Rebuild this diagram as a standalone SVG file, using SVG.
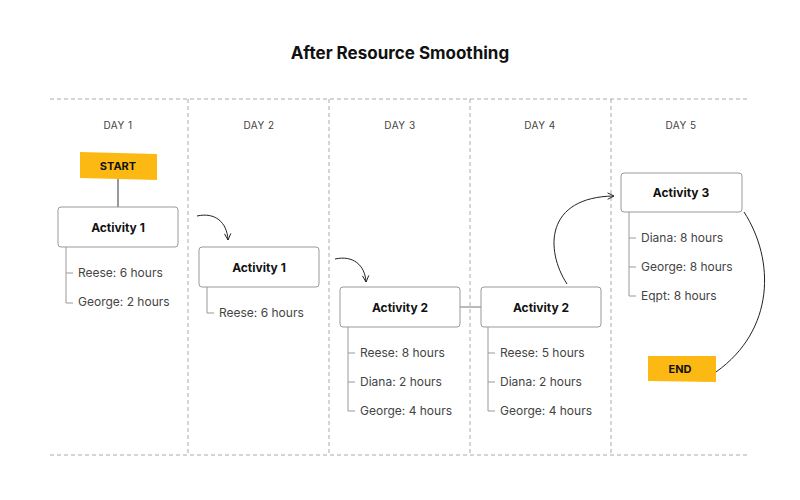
<svg xmlns="http://www.w3.org/2000/svg" width="800" height="500" viewBox="0 0 800 500">
<style>
text{font-family:Inter,"Open Sans",sans-serif;}
.grid{stroke:#aaa;stroke-width:1;stroke-dasharray:4 3;fill:none}
.day{font-size:10px;fill:#444;letter-spacing:0.5px;text-anchor:middle}
.box{fill:#fff;stroke:#999;stroke-width:1}
.bt{font-size:12px;font-weight:700;fill:#111;text-anchor:middle}
.it{font-size:12px;fill:#444}
.tree{stroke:#999;stroke-width:1;fill:none}
.con{stroke:#222;stroke-width:1;fill:none}
.sticky{fill:#fdb913}
.st{font-size:11px;font-weight:700;fill:#111;text-anchor:middle}
</style>
<defs><marker id="ah" viewBox="0 0 10 10" refX="9" refY="5" markerWidth="8" markerHeight="8" orient="auto-start-reverse"><path d="M1,1 L9,5 L1,9" fill="none" stroke="#222" stroke-width="1.2"/></marker></defs>
<rect width="800" height="500" fill="#fff"/>
<text x="400" y="59" text-anchor="middle" font-size="17" font-weight="700" fill="#111">After Resource Smoothing</text>
<g id="grid">
<line class="grid" x1="50" y1="99" x2="750" y2="99"/>
<line class="grid" x1="50" y1="455" x2="750" y2="455"/>
<line class="grid" x1="188" y1="99" x2="188" y2="455"/>
<line class="grid" x1="329" y1="99" x2="329" y2="455"/>
<line class="grid" x1="470" y1="99" x2="470" y2="455"/>
<line class="grid" x1="611" y1="99" x2="611" y2="455"/>
<text class="day" x="118" y="129">DAY 1</text>
<text class="day" x="259" y="129">DAY 2</text>
<text class="day" x="400" y="129">DAY 3</text>
<text class="day" x="540" y="129">DAY 4</text>
<text class="day" x="681" y="129">DAY 5</text>
</g>
<g id="connectors">
<line x1="118" y1="179" x2="118" y2="207" stroke="#777" stroke-width="1.5"/>
<path class="con" d="M197,216 C215,212 227,222 228,240" marker-end="url(#ah)"/>
<path class="con" d="M335,259 C353,255 365,265 366,282" marker-end="url(#ah)"/>
<line x1="460" y1="307" x2="481" y2="307" stroke="#777" stroke-width="1"/>
<path class="con" d="M567,284 C545,250 545,197 614,196" marker-end="url(#ah)"/>
<path class="con" d="M744,212 C775,260 775,330 716,372"/>
</g>
<g id="start"><polygon class="sticky" points="80,152 157,154 157,180 80,178"/><text class="st" x="118" y="170">START</text></g>
<g id="end"><polygon class="sticky" points="648,356 716,356 716,382 648,381"/><text class="st" x="680" y="373">END</text></g>
<g id="a1d1"><rect class="box" x="58" y="207" width="120" height="40" rx="3"/><text class="bt" x="118" y="232">Activity 1</text>
<path class="tree" d="M66,247 V303 H73 M66,273 H73"/><text class="it" x="78" y="277">Reese: 6 hours</text><text class="it" x="78" y="306">George: 2 hours</text></g>
<g id="a1d2"><rect class="box" x="199" y="247" width="120" height="40" rx="3"/><text class="bt" x="259" y="272">Activity 1</text>
<path class="tree" d="M207,287 V313 H214"/><text class="it" x="219" y="317">Reese: 6 hours</text></g>
<g id="a2d3"><rect class="box" x="340" y="287" width="120" height="40" rx="3"/><text class="bt" x="400" y="312">Activity 2</text>
<path class="tree" d="M348,327 V411 H355 M348,353 H355 M348,382 H355"/><text class="it" x="360" y="357">Reese: 8 hours</text><text class="it" x="360" y="386">Diana: 2 hours</text><text class="it" x="360" y="415">George: 4 hours</text></g>
<g id="a2d4"><rect class="box" x="481" y="287" width="120" height="40" rx="3"/><text class="bt" x="541" y="312">Activity 2</text>
<path class="tree" d="M488,327 V411 H495 M488,353 H495 M488,382 H495"/><text class="it" x="500" y="357">Reese: 5 hours</text><text class="it" x="500" y="386">Diana: 2 hours</text><text class="it" x="500" y="415">George: 4 hours</text></g>
<g id="a3d5"><rect class="box" x="621" y="173" width="121" height="39" rx="3"/><text class="bt" x="681" y="197">Activity 3</text>
<path class="tree" d="M629,212 V296 H636 M629,238 H636 M629,267 H636"/><text class="it" x="641" y="242">Diana: 8 hours</text><text class="it" x="641" y="271">George: 8 hours</text><text class="it" x="641" y="300">Eqpt: 8 hours</text></g>
</svg>
